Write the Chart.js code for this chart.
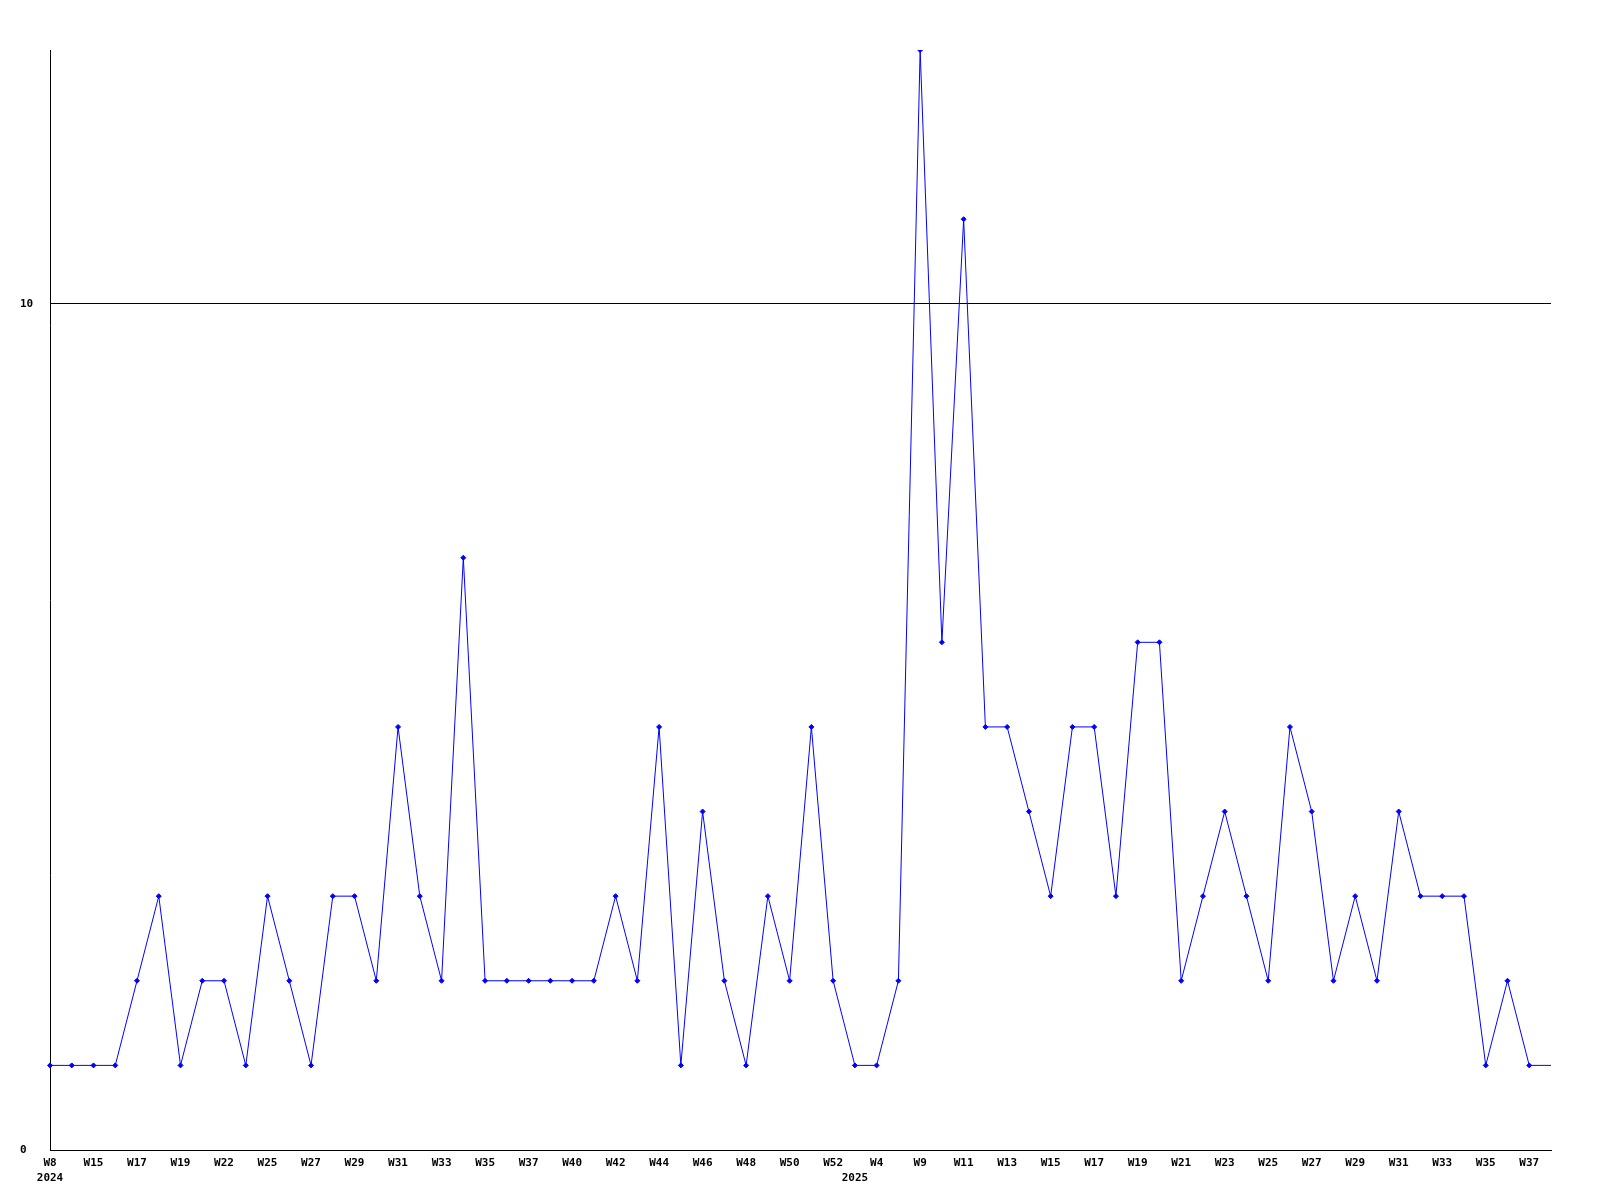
<!DOCTYPE html>
<html>
<head>
<meta charset="utf-8">
<script src="https://cdn.jsdelivr.net/npm/chart.js@4.4.1/dist/chart.umd.min.js"></script>
<style>
  body { margin: 0; background: #fff; }
  canvas { display: block; }
</style>
</head>
<body>
<canvas id="myChart" width="1600" height="1200"></canvas>
<script>
// weekly counts, 2024 W8 .. 2025 W38
const weeks = [
  'W8', 'W14', 'W15', 'W16', 'W17', 'W18', 'W19', 'W20', 'W22', 'W23',
  'W25', 'W26', 'W27', 'W28', 'W29', 'W30', 'W31', 'W32', 'W33', 'W34',
  'W35', 'W36', 'W37', 'W38', 'W40', 'W41', 'W42', 'W43', 'W44', 'W45',
  'W46', 'W47', 'W48', 'W49', 'W50', 'W51', 'W52', 'W1', 'W4', 'W7',
  'W9', 'W10', 'W11', 'W12', 'W13', 'W14', 'W15', 'W16', 'W17', 'W18',
  'W19', 'W20', 'W21', 'W22', 'W23', 'W24', 'W25', 'W26', 'W27', 'W28',
  'W29', 'W30', 'W31', 'W32', 'W33', 'W34', 'W35', 'W36', 'W37', 'W38'
];
const counts = [
  1, 1, 1, 1, 2, 3, 1, 2, 2, 1,
  3, 2, 1, 3, 3, 2, 5, 3, 2, 7,
  2, 2, 2, 2, 2, 2, 3, 2, 5, 1,
  4, 2, 1, 3, 2, 5, 2, 1, 1, 2,
  13, 6, 11, 5, 5, 4, 3, 5, 5, 3,
  6, 6, 2, 3, 4, 3, 2, 5, 4, 2,
  3, 2, 4, 3, 3, 3, 1, 2, 1, 1
];
// year shown under the first week of each year
const years = ['2024', '2025'];
const yearStart = [0, 37];
const yTicks = [0, 10];

const tickFont = { family: 'DejaVu Sans Mono', size: 11, weight: 'bold', lineHeight: '15px' };

const data = {
    labels: weeks,
    datasets: [{
        data: counts,
        borderColor: 'rgb(0, 0, 255)',
        backgroundColor: 'rgb(0, 0, 255)',
        borderWidth: 1,
        tension: 0,
        pointStyle: 'rectRot',
        pointRadius: (ctx) => ctx.dataIndex === counts.length - 1 ? 0 : 2.5,
        pointBorderWidth: 1,
    }]
};

const config = {
    type: 'line',
    data: data,
    options: {
        responsive: false,
        animation: false,
        devicePixelRatio: 1,
        layout: { padding: { left: 20, right: 49, top: 50, bottom: 0 } },
        plugins: {
            legend: { display: false },
            tooltip: { enabled: false }
        },
        scales: {
            x: {
                offset: false,
                grid: { display: false, drawTicks: false },
                border: { display: true, color: '#000', width: 1 },
                afterFit: (scale) => { scale.height = 50; },
                ticks: {
                    autoSkip: false,
                    maxRotation: 0,
                    minRotation: 0,
                    padding: 6,
                    color: '#000',
                    font: tickFont,
                    callback: function(value, index) {
                        const week = (index % 2 === 0) ? weeks[index] : '';
                        const y = yearStart.indexOf(index);
                        return y >= 0 ? [week, years[y]] : week;
                    }
                }
            },
            y: {
                min: 0,
                max: 13,
                afterBuildTicks: (scale) => { scale.ticks = yTicks.map(v => ({ value: v })); },
                afterFit: (scale) => { scale.width = 30; },
                grid: { color: '#000', lineWidth: 1, drawTicks: false },
                border: { display: true, color: '#000', width: 1 },
                ticks: {
                    crossAlign: 'far',
                    padding: 0,
                    color: '#000',
                    font: tickFont
                }
            }
        }
    }
};

new Chart(document.getElementById('myChart'), config);
</script>
</body>
</html>
